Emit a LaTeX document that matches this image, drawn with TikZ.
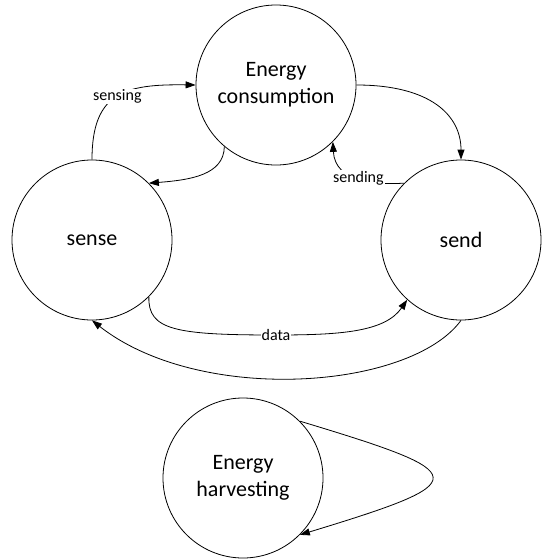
\documentclass[tikz,border=0pt]{standalone}
\usepackage{fontspec}
\setmainfont{Carlito}
\usetikzlibrary{arrows.meta}
\begin{document}
\begin{tikzpicture}[x=1pt,y=-1pt,
  state/.style={circle,draw,line width=0.8pt,minimum size=160pt,inner sep=0pt,align=center,font=\fontsize{22}{27}\selectfont},
  conn/.style={line width=0.8pt,-{Triangle[length=10pt,width=7pt]}},
  lbl/.style={fill=white,inner sep=1pt,font=\fontsize{16}{19}\selectfont}]
\useasboundingbox (0,0) rectangle (542,560);
\node[state] (ec) at (276,85) {Energy\\consumption};
\node[state] (sense) at (92,240) {sense};
\node[state] (send) at (461,240) {send};
\node[state] (eh) at (243,478) {Energy\\harvesting};
\draw[conn] (sense.90) .. controls (92,92) and (125,84) .. node[lbl]{sensing} (ec.180);
\draw[conn] (ec.-130) .. controls (224,175) and (190,180) .. (sense.45);
\draw[conn] (ec.0) .. controls (430,85) and (461,115) .. (send.90);
\draw[conn] (send.135) .. controls (375,185) and (335,182) .. node[lbl]{sending} (ec.-45);
\draw[conn] (sense.-45) .. controls (148,330) and (175,335) .. (276,335) node[lbl]{data} .. controls (340,335) and (385,332) .. (send.-132);
\draw[conn] (send.-90) .. controls (410,390) and (200,405) .. (sense.-90);
\draw[conn] (eh.45) .. controls (475,474) and (477,481) .. (eh.-45);
\end{tikzpicture}
\end{document}
